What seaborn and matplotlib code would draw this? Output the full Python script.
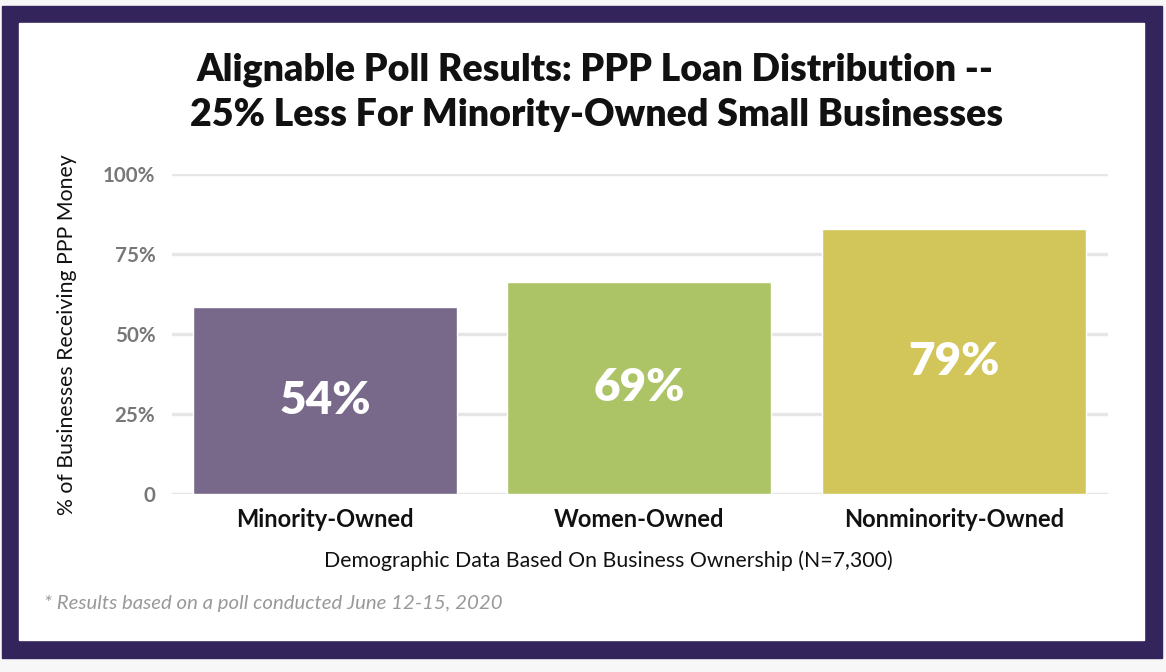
import matplotlib
matplotlib.use('Agg')
import matplotlib.pyplot as plt
import seaborn as sns
import pandas as pd
from matplotlib.patches import Rectangle

# data
categories = ['Minority-Owned', 'Women-Owned', 'Nonminority-Owned']
bar_heights = [58.4, 66.3, 82.8]
bar_labels = ['54%', '69%', '79%']
bar_colors = ['#786889', '#acc466', '#d2c65a']
y_ticks = [0, 25, 50, 75, 100]
y_tick_labels = ['0', '25%', '50%', '75%', '100%']

df = pd.DataFrame({'group': categories, 'pct': bar_heights})

sns.set_theme(style='white')
plt.rcParams['font.family'] = ['Lato', 'DejaVu Sans']

W, H = 1166, 672
fig = plt.figure(figsize=(W / 100, H / 100), dpi=100)
fig.patch.set_facecolor('#f7f7f7')

# frame: purple border + white card
fig.patches.append(Rectangle((2 / W, 1 - 658 / H), 1160 / W, 652 / H,
                             transform=fig.transFigure, color='#33245c', zorder=-5))
fig.patches.append(Rectangle((19 / W, 1 - 640 / H), 1125 / W, 617 / H,
                             transform=fig.transFigure, color='white', zorder=-4))

ax = fig.add_axes([172 / W, 1 - 494 / H, 936 / W, 320 / H])
ax.set_facecolor('none')

sns.barplot(data=df, x='group', y='pct', hue='group', palette=bar_colors,
            width=0.84, legend=False, ax=ax, zorder=3, saturation=1)

for cont, lab in zip(ax.containers, bar_labels):
    ax.bar_label(cont, labels=[lab], label_type='center', color='white',
                 fontsize=33, fontweight='heavy')

ax.set_xlim(-0.486, 2.49)
ax.set_ylim(0, 100)
ax.set_yticks(y_ticks)
ax.set_yticklabels(y_tick_labels, color='#777777', fontsize=14.8, fontweight='bold')
ax.grid(axis='y', color='#e6e6e6', linewidth=2.5, zorder=0)
ax.set_axisbelow(True)
for s in ax.spines.values():
    s.set_visible(False)
ax.tick_params(axis='y', length=0, pad=12)
ax.tick_params(axis='x', length=0, pad=10)
for t in ax.get_xticklabels():
    t.set_fontsize(17)
    t.set_fontweight('bold')
    t.set_color('#111111')

ax.set_xlabel('Demographic Data Based On Business Ownership (N=7,300)',
              fontsize=15.3, color='#111111')
ax.xaxis.set_label_coords((608 - 172) / 936, -(561 - 494) / 320)
ax.xaxis.label.set_va('center')
ax.set_ylabel('% of Businesses Receiving PPP Money', fontsize=15.3,
              color='#111111')
ax.yaxis.set_label_coords(-(172 - 67) / 936, (494 - 335) / 320)
ax.yaxis.label.set_va('center')

fig.text(595 / W, 1 - 70 / H, 'Alignable Poll Results: PPP Loan Distribution --',
         ha='center', va='center', fontsize=27, fontweight='heavy', color='#111111')
fig.text(597 / W, 1 - 115 / H, '25% Less For Minority-Owned Small Businesses',
         ha='center', va='center', fontsize=27, fontweight='heavy', color='#111111')
fig.text(44 / W, 1 - 604 / H, '* Results based on a poll conducted June 12-15, 2020',
         ha='left', va='center', fontsize=14.7, style='italic', color='#999999')

fig.savefig('out.png', dpi=100, facecolor=fig.get_facecolor())
